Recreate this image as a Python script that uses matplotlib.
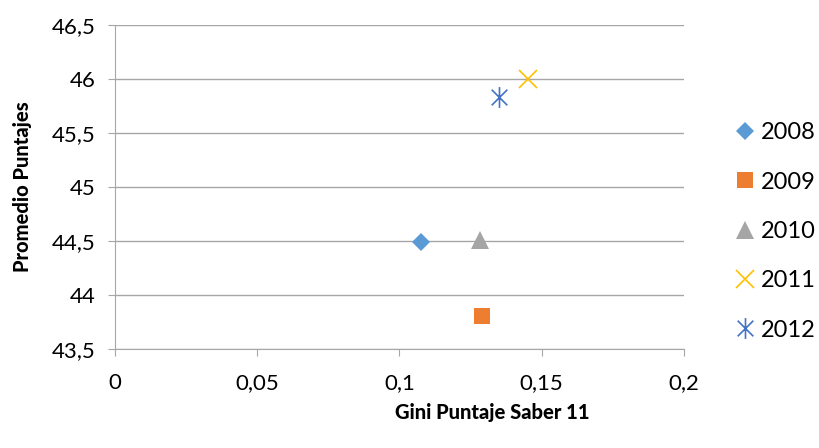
import matplotlib.pyplot as plt
from matplotlib.path import Path

years = ["2008", "2009", "2010", "2011", "2012"]
gini = [0.1075, 0.1289, 0.1283, 0.1453, 0.1351]
promedio = [44.49, 43.805, 44.51, 46.0, 45.83]
colors = ["#5B9BD5", "#ED7D31", "#A5A5A5", "#FFC000", "#4472C4"]

# asterisk like excel: vertical bar plus an x
star = Path([(0, -1), (0, 1), (-0.75, -0.75), (0.75, 0.75), (-0.75, 0.75), (0.75, -0.75)],
            [Path.MOVETO, Path.LINETO, Path.MOVETO, Path.LINETO, Path.MOVETO, Path.LINETO])
markers = ["D", "s", "^", "x", star]
sizes = [9, 12, 13, 13, 15]

plt.rcParams['font.family'] = ['Lato', 'DejaVu Sans']

fig = plt.figure(figsize=(8.2, 4.48), dpi=100)
ax = fig.add_axes([0.140, 0.221, 0.694, 0.723])

for i in range(len(years)):
    ax.plot(gini[i], promedio[i], linestyle="none", marker=markers[i], color=colors[i],
            markersize=sizes[i], markeredgewidth=1.2 if i >= 3 else 0, label=years[i], zorder=3)

ax.set_xlim(0, 0.2)
ax.set_ylim(43.5, 46.5)
ax.set_xticks([0, 0.05, 0.1, 0.15, 0.2])
ax.set_xticklabels(["0", "0,05", "0,1", "0,15", "0,2"])
ax.set_yticks([43.5, 44, 44.5, 45, 45.5, 46, 46.5])
ax.set_yticklabels(["43,5", "44", "44,5", "45", "45,5", "46", "46,5"])
ax.grid(axis="y", color="#A6A6A6", linewidth=1)
ax.set_axisbelow(True)
for s in ["top", "right"]:
    ax.spines[s].set_visible(False)
for s in ["left", "bottom"]:
    ax.spines[s].set_color("#A6A6A6")
ax.tick_params(colors="#A6A6A6", labelcolor="black", labelsize=16, length=5)
ax.tick_params(axis="x", pad=12)
ax.tick_params(axis="y", pad=9)

fig.text(0.027, 0.583, "Promedio Puntajes", rotation=90, ha="center", va="center",
         fontsize=14.5, fontweight="black")
fig.text(0.6, 0.08, "Gini Puntaje Saber 11", ha="center", va="center", fontsize=14.5, fontweight="black")

ax.legend(loc="center left", bbox_to_anchor=(1.05, 0.363), frameon=False, fontsize=17,
          labelspacing=1.2, handletextpad=0.15, handlelength=1.0, markerscale=1.0)

fig.savefig("out.png", dpi=100)
